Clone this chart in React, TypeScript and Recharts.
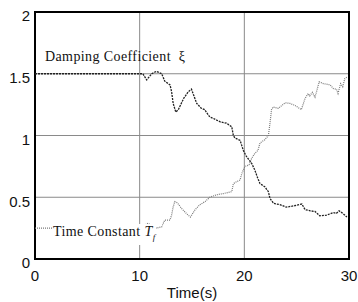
import { CartesianGrid, Line, LineChart, ReferenceArea, XAxis, YAxis } from 'recharts'

const timeTicks = [0, 10, 20, 30]
const valueTicks = [0, 0.5, 1, 1.5, 2]

const dampingTime = [
  0, 10.3, 10.67, 11.15, 11.6, 12.1, 12.4, 12.9, 13.05, 13.2, 13.45, 13.7, 14.2, 14.65, 14.95, 15.1, 15.45, 15.9,
  16.2, 16.7, 17.0, 17.7, 18.3, 18.8, 18.95, 19.1, 19.6, 19.75, 19.9, 20.2, 20.7, 21.0, 21.3, 21.5, 21.95, 22.3,
  22.45, 22.8, 23.4, 24.0, 24.7, 25.5, 25.8, 26.3, 26.75, 27.2, 27.85, 28.5, 28.8, 29.05, 29.4, 29.8,
]
const dampingValue = [
  1.5, 1.5, 1.45, 1.5, 1.52, 1.5, 1.44, 1.41, 1.355, 1.26, 1.19, 1.21, 1.3, 1.355, 1.375, 1.34, 1.26, 1.22,
  1.21, 1.15, 1.14, 1.11, 1.1, 1.07, 1.0, 0.98, 0.96, 0.92, 0.88, 0.83, 0.775, 0.72, 0.65, 0.61, 0.585, 0.545,
  0.49, 0.45, 0.44, 0.42, 0.43, 0.445, 0.4, 0.39, 0.385, 0.35, 0.355, 0.375, 0.37, 0.39, 0.37, 0.34,
]

const timeConstTime = [
  0, 10.3, 10.5, 10.8, 11.15, 11.6, 12.1, 12.4, 12.9, 13.05, 13.2, 13.35, 13.6, 14.0, 14.5, 14.85, 15.3, 15.75,
  16.25, 16.7, 17.35, 18.0, 18.8, 18.95, 19.25, 19.6, 19.75, 20.05, 20.45, 20.7, 21.0, 21.3, 21.5, 21.95, 22.3,
  22.45, 22.6, 22.75, 23.25, 23.9, 24.35, 24.8, 25.45, 25.8, 26.1, 26.25, 26.5, 26.75, 26.9, 27.15, 27.55, 28.2,
  28.5, 28.8, 28.95, 29.2, 29.4, 29.6, 29.85,
]
const timeConstValue = [
  0.25, 0.25, 0.275, 0.29, 0.27, 0.25, 0.26, 0.315, 0.315, 0.355, 0.42, 0.465, 0.455, 0.41, 0.365, 0.34, 0.4, 0.44,
  0.465, 0.5, 0.52, 0.53, 0.545, 0.61, 0.625, 0.64, 0.69, 0.75, 0.76, 0.815, 0.855, 0.88, 0.94, 0.965, 1.0,
  1.1, 1.21, 1.23, 1.22, 1.265, 1.26, 1.245, 1.21, 1.3, 1.34, 1.32, 1.35, 1.31, 1.355, 1.435, 1.42, 1.41,
  1.38, 1.375, 1.34, 1.42, 1.395, 1.46, 1.475,
]

const damping = dampingTime.map((t, i) => ({ t, v: dampingValue[i] }))
const timeConst = timeConstTime.map((t, i) => ({ t, v: timeConstValue[i] }))

const tickFont = { fontFamily: 'Liberation Sans, Arial, sans-serif', fontSize: 15, fill: '#111' }
const noteFont = { fontFamily: 'Liberation Serif, Times New Roman, serif', fontSize: 14, letterSpacing: 0.4, color: '#111' }

export default function App() {
  return (
    <div style={{ position: 'fixed', left: 0, top: 0, width: 358, height: 302, background: '#fff' }}>
      <LineChart width={358} height={302} margin={{ top: 12, right: 9, left: 0, bottom: 0 }}>
        <CartesianGrid stroke="#8a8a8a" strokeWidth={1} />
        <XAxis
          type="number"
          dataKey="t"
          domain={[0, 30]}
          ticks={timeTicks}
          height={43}
          tickLine={false}
          axisLine={false}
          tickSize={6}
          tickMargin={5}
          tick={tickFont}
          label={{ value: 'Time(s)', position: 'insideBottom', offset: 4, style: tickFont }}
        />
        <YAxis
          type="number"
          dataKey="v"
          domain={[0, 2]}
          ticks={valueTicks}
          width={35}
          tickLine={false}
          axisLine={false}
          tickSize={5}
          tickMargin={0}
          tick={{ ...tickFont, dy: 4 }}
        />
        <ReferenceArea x1={0} x2={30} y1={0} y2={2} fill="none" stroke="#000" strokeWidth={2} />
        <Line
          data={timeConst}
          dataKey="v"
          type="linear"
          stroke="#7a7a7a"
          strokeWidth={1.2}
          strokeDasharray="1 1"
          dot={false}
          isAnimationActive={false}
        />
        <Line
          data={damping}
          dataKey="v"
          type="linear"
          stroke="#222"
          strokeWidth={1.3}
          strokeDasharray="2 1"
          dot={false}
          isAnimationActive={false}
        />
      </LineChart>
      <div style={{ ...noteFont, position: 'absolute', left: 45, top: 49, whiteSpace: 'nowrap' }}>
        Damping Coefficient&nbsp;&nbsp;ξ
      </div>
      <div
        style={{
          ...noteFont,
          position: 'absolute',
          left: 53,
          top: 224,
          whiteSpace: 'nowrap',
          background: '#fff',
          lineHeight: '16px',
        }}
      >
        Time Constant <i>T</i>
        <sub style={{ fontSize: 9, fontStyle: 'italic' }}>f</sub>
      </div>
    </div>
  )
}
